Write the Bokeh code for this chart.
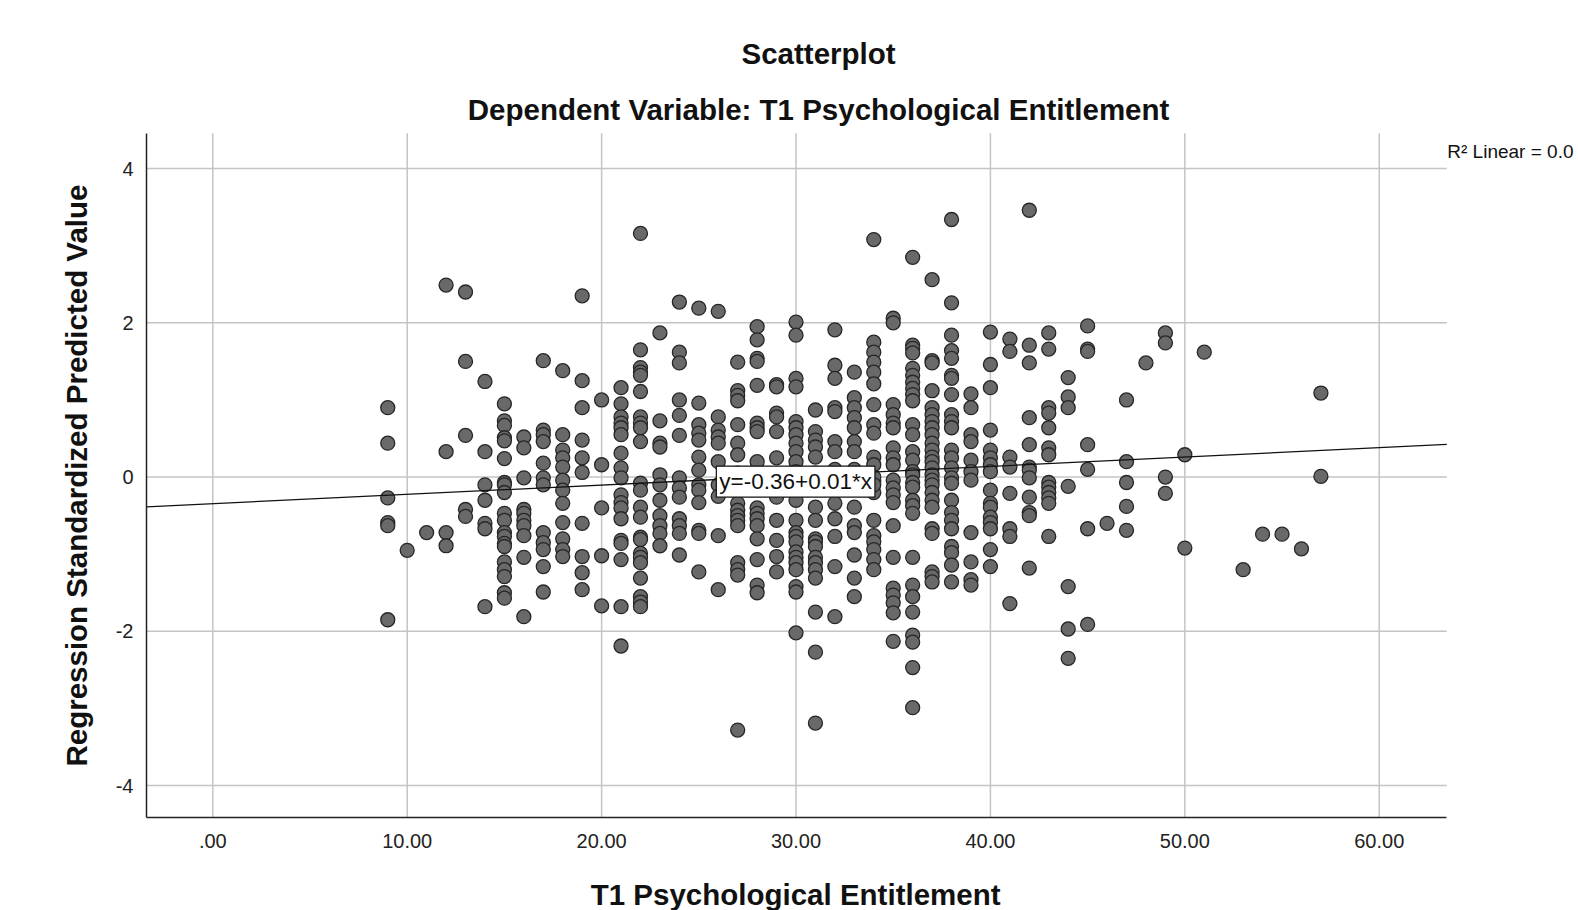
import math
from bokeh.plotting import figure
from bokeh.models import FixedTicker, Label, Range1d
from bokeh.embed import file_html
from bokeh.resources import INLINE

# ---- data ----
t1_entitlement = (
    [9]*6 + [10] + [11] + [12]*4 + [13]*5 + [14]*7 + [15]*20 + [16]*10 + [17]*12 + [18]*12 +
    [19]*10 + [20]*5 + [21]*18 + [22]*23 + [23]*11 + [24]*13 + [25]*13 + [26]*10 + [27]*18 +
    [28]*18 + [29]*12 + [30]*25 + [31]*19 + [32]*14 + [33]*15 + [34]*21 + [35]*20 + [36]*29 +
    [37]*25 + [38]*24 + [39]*11 + [40]*16 + [41]*8 + [42]*12 + [43]*13 + [44]*7 + [45]*7 +
    [46] + [47]*5 + [48] + [49]*4 + [50]*2 + [51] + [53] + [54] + [55] + [56] + [57]*2
)
std_predicted = [
    0.90, 0.44, -0.27, -0.59, -0.63, -1.85,
    -0.95,
    -0.72,
    2.49, 0.33, -0.72, -0.89,
    2.40, 1.50, 0.54, -0.42, -0.51,
    1.24, 0.33, -0.10, -0.30, -0.60, -0.67, -1.68,
    0.95, 0.73, 0.67, 0.51, 0.47, 0.24, -0.07, -0.10, -0.20, -0.47, -0.56, -0.72, -0.77, -0.86, -0.90, -1.10, -1.20, -1.29, -1.50, -1.57,
    0.52, 0.38, -0.01, -0.42, -0.47, -0.56, -0.63, -0.76, -1.04, -1.81,
    1.51, 0.61, 0.55, 0.46, 0.18, -0.01, -0.10, -0.72, -0.85, -0.94, -1.16, -1.49,
    1.38, 0.55, 0.35, 0.25, 0.13, -0.04, -0.17, -0.34, -0.59, -0.80, -0.94, -1.03,
    2.35, 1.25, 0.90, 0.48, 0.25, 0.06, -0.60, -1.03, -1.24, -1.46,
    1.00, 0.16, -0.40, -1.02, -1.67,
    1.16, 0.95, 0.78, 0.70, 0.64, 0.55, 0.31, 0.12, -0.01, -0.23, -0.33, -0.40, -0.54, -0.82, -0.86, -1.07, -1.68, -2.19,
    3.16, 1.65, 1.42, 1.36, 1.32, 1.11, 0.78, 0.70, 0.64, 0.46, -0.08, -0.17, -0.39, -0.52, -0.78, -0.81, -0.99, -1.04, -1.11, -1.31, -1.55, -1.62, -1.68,
    1.87, 0.73, 0.44, 0.39, 0.03, -0.10, -0.30, -0.50, -0.63, -0.73, -0.89,
    2.27, 1.62, 1.48, 1.00, 0.80, 0.54, -0.01, -0.14, -0.26, -0.54, -0.63, -0.73, -1.01,
    2.19, 0.96, 0.68, 0.57, 0.48, 0.26, 0.09, -0.10, -0.17, -0.33, -0.69, -0.73, -1.23,
    2.15, 0.78, 0.61, 0.52, 0.44, 0.20, -0.10, -0.25, -0.76, -1.46,
    1.49, 1.12, 1.06, 0.99, 0.68, 0.44, 0.29, 0.05, -0.15, -0.34, -0.43, -0.50, -0.56, -0.63, -1.11, -1.20, -1.27, -3.28,
    1.95, 1.78, 1.54, 1.50, 1.19, 0.70, 0.64, 0.59, 0.20, -0.10, -0.40, -0.47, -0.54, -0.63, -0.80, -1.07, -1.40, -1.50,
    1.20, 1.17, 0.83, 0.78, 0.59, 0.25, 0.00, -0.26, -0.56, -0.82, -1.03, -1.23,
    2.01, 1.84, 1.28, 1.17, 0.72, 0.64, 0.55, 0.44, 0.33, 0.20, 0.07, -0.10, -0.20, -0.30, -0.56, -0.72, -0.77, -0.84, -0.97, -1.04, -1.11, -1.20, -1.42, -1.49, -2.02,
    0.87, 0.59, 0.48, 0.39, 0.26, 0.05, -0.15, -0.39, -0.56, -0.80, -0.84, -0.90, -1.04, -1.11, -1.20, -1.31, -1.75, -2.27, -3.19,
    1.91, 1.45, 1.28, 0.90, 0.85, 0.46, 0.33, 0.10, -0.10, -0.34, -0.54, -0.77, -1.16, -1.81,
    1.36, 1.03, 0.90, 0.77, 0.64, 0.46, 0.33, 0.10, -0.05, -0.39, -0.63, -0.72, -1.01, -1.31, -1.55,
    3.08, 1.75, 1.62, 1.49, 1.36, 1.21, 0.94, 0.68, 0.57, 0.26, 0.16, -0.05, -0.20, -0.56, -0.76, -0.84, -0.94, -1.07, -1.20, 0.00, -0.10,
    2.06, 2.00, 0.94, 0.81, 0.70, 0.64, 0.38, 0.25, 0.16, -0.04, -0.14, -0.23, -0.33, -0.63, -1.04, -1.44, -1.53, -1.63, -1.76, -2.13,
    2.85, 1.71, 1.67, 1.61, 1.41, 1.32, 1.23, 1.15, 1.07, 0.99, 0.68, 0.55, 0.33, 0.22, 0.07, 0.03, -0.07, -0.13, -0.30, -0.37, -0.47, -1.04, -1.40, -1.55, -1.75, -2.05, -2.14, -2.47, -2.99,
    2.56, 1.51, 1.48, 1.12, 0.90, 0.81, 0.72, 0.64, 0.55, 0.44, 0.35, 0.26, 0.20, 0.12, 0.03, -0.04, -0.10, -0.20, -0.30, -0.39, -0.67, -0.73, -1.23, -1.29, -1.36,
    3.34, 2.26, 1.84, 1.64, 1.54, 1.32, 1.28, 1.07, 0.81, 0.72, 0.64, 0.35, 0.25, 0.12, -0.01, -0.08, -0.30, -0.46, -0.56, -0.67, -0.90, -0.98, -1.14, -1.36,
    1.08, 0.90, 0.55, 0.46, 0.22, 0.07, -0.04, -0.72, -1.10, -1.33, -1.40,
    1.88, 1.46, 1.16, 0.61, 0.35, 0.25, 0.16, 0.07, -0.17, -0.34, -0.39, -0.52, -0.59, -0.67, -0.94, -1.16,
    1.79, 1.63, 0.26, 0.13, -0.21, -0.67, -0.77, -1.64,
    3.46, 1.71, 1.48, 0.77, 0.42, 0.13, 0.09, -0.01, -0.26, -0.46, -0.50, -1.18,
    1.87, 1.66, 0.90, 0.83, 0.64, 0.38, 0.29, -0.07, -0.13, -0.20, -0.27, -0.34, -0.77,
    1.29, 1.04, 0.90, -0.12, -1.42, -1.97, -2.35,
    1.96, 1.66, 1.63, 0.42, 0.10, -0.67, -1.91,
    -0.60,
    1.00, 0.20, -0.07, -0.38, -0.69,
    1.48,
    1.87, 1.74, 0.00, -0.21,
    0.29, -0.92,
    1.62,
    -1.20,
    -0.74,
    -0.74,
    -0.93,
    1.09, 0.01,
]

fit_intercept = -0.345
fit_slope = 0.0121
fit_label = "y=-0.36+0.01*x"
r2_label = "R\u00b2 Linear = 0.0"

x_ticks = [0, 10, 20, 30, 40, 50, 60]
x_tick_labels = [".00", "10.00", "20.00", "30.00", "40.00", "50.00", "60.00"]
y_ticks = [-4, -2, 0, 2, 4]
y_tick_labels = ["-4", "-2", "0", "2", "4"]

title_1 = "Scatterplot"
title_2 = "Dependent Variable: T1 Psychological Entitlement"
x_title = "T1 Psychological Entitlement"
y_title = "Regression Standardized Predicted Value"

# extents of the plot box (data units) and of the whole canvas
X_MIN, X_MAX = -3.41, 63.47
Y_MIN, Y_MAX = -4.42, 4.46
CANVAS_X = (-10.92, 70.25)
CANVAS_Y = (-5.62, 6.18)

FONT = "Liberation Sans"
INK = "#111111"

p = figure(width=1578, height=910, output_backend="svg", toolbar_location=None,
           x_range=Range1d(*CANVAS_X), y_range=Range1d(*CANVAS_Y),
           min_border_left=0, min_border_right=0, min_border_top=0, min_border_bottom=0)
p.outline_line_color = None
p.background_fill_color = "white"
p.grid.visible = False

for ax in (p.xaxis[0], p.yaxis[0]):
    ax.axis_line_color = "#222222"
    ax.axis_line_width = 1.5
    ax.major_tick_out = 0
    ax.major_tick_in = 0
    ax.major_tick_line_color = None
    ax.minor_tick_line_color = None
    ax.major_label_text_font = FONT
    ax.major_label_text_font_size = "20px"
    ax.major_label_text_color = "#222222"

# axes drawn at the edges of the plot box
p.xaxis.fixed_location = Y_MIN
p.yaxis.fixed_location = X_MIN
p.xaxis.bounds = (X_MIN, X_MAX)
p.yaxis.bounds = (Y_MIN, Y_MAX)
p.xaxis.ticker = FixedTicker(ticks=x_ticks)
p.xaxis.major_label_overrides = dict(zip(x_ticks, x_tick_labels))
p.yaxis.ticker = FixedTicker(ticks=y_ticks)
p.yaxis.major_label_overrides = dict(zip(y_ticks, y_tick_labels))
p.xaxis.major_label_standoff = 16
p.yaxis.major_label_standoff = 13

# grid lines limited to the plot box
GRID = "#c4c4c4"
p.segment(x0=x_ticks, y0=[Y_MIN]*len(x_ticks), x1=x_ticks, y1=[Y_MAX]*len(x_ticks),
          line_color=GRID, line_width=1.5)
p.segment(x0=[X_MIN]*len(y_ticks), y0=y_ticks, x1=[X_MAX]*len(y_ticks), y1=y_ticks,
          line_color=GRID, line_width=1.5)

p.scatter(t1_entitlement, std_predicted, size=14, fill_color="#696969",
          line_color="#262626", line_width=1.3)

fit_x = [X_MIN, X_MAX]
fit_y = [fit_intercept + fit_slope * v for v in fit_x]
p.line(fit_x, fit_y, line_color=INK, line_width=1.3)

p.add_layout(Label(x=29.98, y=-0.06, text=fit_label, text_align="center", text_baseline="middle",
                   text_font=FONT, text_font_size="22.5px", text_color=INK,
                   background_fill_color="white", border_line_color=INK,
                   border_line_width=1.2, padding=3))

bold = dict(text_align="center", text_baseline="middle", text_font=FONT,
            text_font_style="bold", text_font_size="29.5px", text_color=INK)
p.add_layout(Label(x=31.16, y=5.49, text=title_1, **bold))
p.add_layout(Label(x=31.16, y=4.77, text=title_2, **bold))
p.add_layout(Label(x=29.98, y=-5.41, text=x_title, **bold))
p.add_layout(Label(x=-7.03, y=0.02, text=y_title, angle=math.pi / 2, **bold))
p.add_layout(Label(x=63.5, y=4.22, text=r2_label, text_align="left", text_baseline="middle",
                   text_font=FONT, text_font_size="19px", text_color=INK))

open("out.html", "w").write(file_html(p, INLINE))
